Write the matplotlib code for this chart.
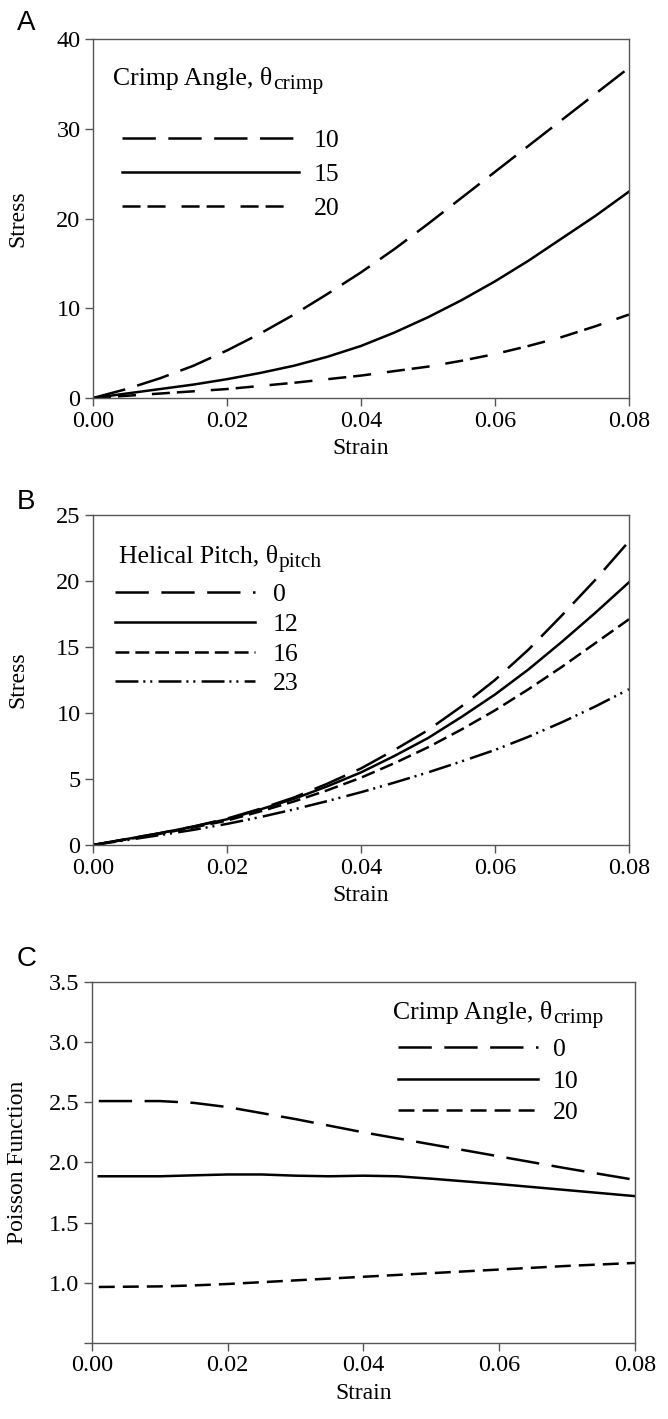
import numpy as np
import matplotlib
matplotlib.use("Agg")
import matplotlib.pyplot as plt

plt.rcParams['font.family'] = ['Liberation Serif', 'DejaVu Serif']
plt.rcParams['lines.scale_dashes'] = False

# ---- data ----
strain = [0.0, 0.005, 0.01, 0.015, 0.02, 0.025, 0.03, 0.035, 0.04,
          0.045, 0.05, 0.055, 0.06, 0.065, 0.07, 0.075, 0.08]

# A: stress vs strain for crimp angles
crimp_a = ['10', '15', '20']
stress_a10 = [0.0, 1.0, 2.2, 3.6, 5.3, 7.2, 9.3, 11.6, 14.0,
              16.6, 19.4, 22.3, 25.2, 28.1, 31.0, 33.9, 36.8]
stress_a15 = [0.0, 0.5, 1.0, 1.5, 2.1, 2.8, 3.6, 4.6, 5.8,
              7.3, 9.0, 10.9, 13.0, 15.3, 17.8, 20.3, 23.0]
stress_a20 = [0.0, 0.25, 0.5, 0.75, 1.0, 1.35, 1.7, 2.1, 2.5,
              3.0, 3.5, 4.15, 4.9, 5.8, 6.8, 8.0, 9.3]

# B: stress vs strain for helical pitch
pitch_b = ['0', '12', '16', '23']
stress_b0 = [0.0, 0.45, 0.9, 1.4, 2.0, 2.75, 3.6, 4.65, 5.8,
             7.2, 8.7, 10.5, 12.5, 14.8, 17.4, 20.1, 23.0]
stress_b12 = [0.0, 0.45, 0.9, 1.4, 1.95, 2.7, 3.5, 4.45, 5.5,
              6.75, 8.1, 9.7, 11.4, 13.3, 15.4, 17.6, 19.9]
stress_b16 = [0.0, 0.42, 0.85, 1.33, 1.85, 2.55, 3.3, 4.15, 5.1,
              6.2, 7.4, 8.75, 10.2, 11.8, 13.5, 15.3, 17.1]
stress_b23 = [0.0, 0.37, 0.75, 1.15, 1.6, 2.12, 2.7, 3.33, 4.0,
              4.73, 5.5, 6.33, 7.2, 8.2, 9.3, 10.5, 11.8]

# C: Poisson function vs strain for crimp angles
strain_c = [0.001, 0.01, 0.015, 0.02, 0.025, 0.03, 0.035, 0.04, 0.045, 0.05, 0.06, 0.07, 0.08]
crimp_c = ['0', '10', '20']
poisson_c0 = [2.51, 2.51, 2.495, 2.46, 2.41, 2.36, 2.305, 2.25, 2.20, 2.15, 2.05, 1.95, 1.855]
poisson_c10 = [1.885, 1.885, 1.893, 1.90, 1.90, 1.89, 1.885, 1.89, 1.885, 1.865, 1.82, 1.77, 1.72]
poisson_c20 = [0.965, 0.97, 0.978, 0.99, 1.005, 1.02, 1.035, 1.05, 1.065, 1.08, 1.11, 1.14, 1.165]

# ---- styles ----
LONG = (0, (24, 9))
SHORT_A = (0, (13, 5, 13, 11.5))
SHORT_B = (0, (10, 4.3))
SHORT_C = (0, (11.5, 5.8))
DASHDOTDOT = (0, (16.5, 3.5, 1.5, 3.5, 1.5, 4.5))
LW = 1.8
TICK_FS = 17.5
LABEL_FS = 17
LEG_FS = 18.5
SUB_FS = 15.5

fig = plt.figure(figsize=(6.68, 14.19), dpi=100)
axA = fig.add_axes([0.1392, 0.7195, 0.8024, 0.2530])
axB = fig.add_axes([0.1392, 0.4045, 0.8024, 0.2326])
axC = fig.add_axes([0.1377, 0.0536, 0.8129, 0.2544])


def style_axes(ax):
    for s in ax.spines.values():
        s.set_color('#555555')
        s.set_linewidth(1.0)
    ax.tick_params(direction='out', length=6, width=1.0, color='#555555',
                   labelsize=TICK_FS, pad=3, top=False, right=False)
    ax.set_xlim(0, 0.08)
    ax.set_xticks([0.0, 0.02, 0.04, 0.06, 0.08])
    ax.set_xticklabels(['0.00', '0.02', '0.04', '0.06', '0.08'])
    ax.set_xlabel('Strain', fontsize=LABEL_FS, labelpad=5)


def legend_title(ax, x, y, main, sub):
    t = ax.text(x, y, main, transform=ax.transAxes, fontsize=LEG_FS, va='baseline')
    ax.annotate(sub, xy=(1, 0), xycoords=t, xytext=(0.5, 0.5),
                textcoords='offset points', fontsize=SUB_FS, va='baseline')


# Panel A
axA.plot(strain, stress_a10, color='black', lw=LW, ls=LONG, label=crimp_a[0])
axA.plot(strain, stress_a15, color='black', lw=LW, ls='-', label=crimp_a[1])
axA.plot(strain, stress_a20, color='black', lw=LW, ls=SHORT_A, label=crimp_a[2])
style_axes(axA)
axA.set_ylim(0, 40)
axA.set_yticks([0, 10, 20, 30, 40])
axA.set_ylabel('Stress', fontsize=LABEL_FS)
axA.yaxis.set_label_coords(-0.121, 0.5)
legend_title(axA, 0.037, 0.872, 'Crimp Angle, θ', 'crimp')
axA.legend(loc='upper left', bbox_to_anchor=(0.054, 0.748), frameon=False,
           fontsize=LEG_FS, handlelength=6.9, handletextpad=0.58,
           labelspacing=0.41, borderpad=0, borderaxespad=0)

# Panel B
axB.plot(strain, stress_b0, color='black', lw=LW, ls=LONG, label=pitch_b[0])
axB.plot(strain, stress_b12, color='black', lw=LW, ls='-', label=pitch_b[1])
axB.plot(strain, stress_b16, color='black', lw=LW, ls=SHORT_B, label=pitch_b[2])
axB.plot(strain, stress_b23, color='black', lw=LW, ls=DASHDOTDOT, label=pitch_b[3])
style_axes(axB)
axB.set_ylim(0, 25)
axB.set_yticks([0, 5, 10, 15, 20, 25])
axB.set_ylabel('Stress', fontsize=LABEL_FS)
axB.yaxis.set_label_coords(-0.121, 0.5)
legend_title(axB, 0.0485, 0.855, 'Helical Pitch, θ', 'pitch')
axB.legend(loc='upper left', bbox_to_anchor=(0.041, 0.793), frameon=False,
           fontsize=LEG_FS, handlelength=5.45, handletextpad=0.7,
           labelspacing=0.26, borderpad=0, borderaxespad=0)

# Panel C
axC.plot(strain_c, poisson_c0, color='black', lw=LW, ls=LONG, label=crimp_c[0])
axC.plot(strain_c, poisson_c10, color='black', lw=LW, ls='-', label=crimp_c[1])
axC.plot(strain_c, poisson_c20, color='black', lw=LW, ls=SHORT_C, label=crimp_c[2])
style_axes(axC)
axC.set_ylim(0.5, 3.5)
axC.set_yticks([0.5, 1.0, 1.5, 2.0, 2.5, 3.0, 3.5])
axC.set_yticklabels(['', '1.0', '1.5', '2.0', '2.5', '3.0', '3.5'])
axC.set_ylabel('Poisson Function', fontsize=LABEL_FS)
axC.yaxis.set_label_coords(-0.118, 0.5)
legend_title(axC, 0.554, 0.897, 'Crimp Angle, θ', 'crimp')
axC.legend(loc='upper left', bbox_to_anchor=(0.563, 0.846), frameon=False,
           fontsize=LEG_FS, handlelength=5.45, handletextpad=0.58,
           labelspacing=0.35, borderpad=0, borderaxespad=0)

# panel letters
for letter, ytop in [('A', 10), ('B', 489), ('C', 946)]:
    fig.text(17 / 668, 1 - ytop / 1419, letter, fontsize=20,
             family=['Liberation Sans', 'DejaVu Sans'], va='top', ha='left')

fig.savefig('out.png', dpi=100)
